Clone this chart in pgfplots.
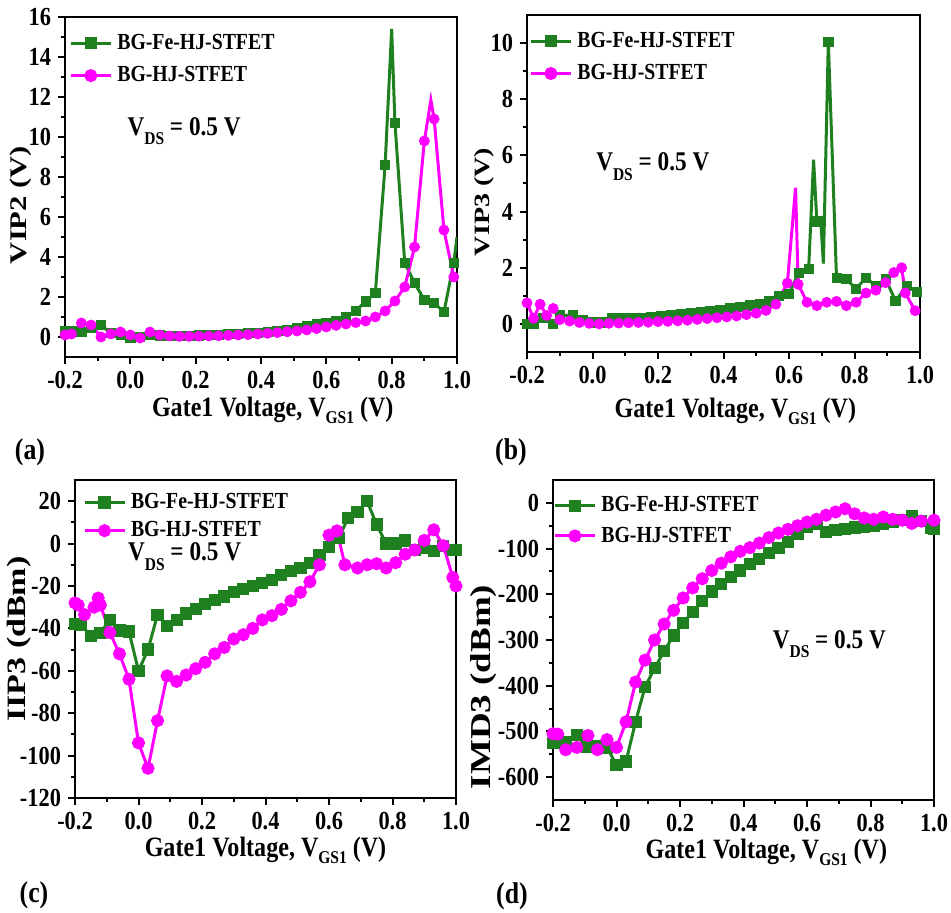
\documentclass[border=0pt]{standalone}
\usepackage{fontspec}
\setmainfont{Liberation Serif}[FakeStretch=0.86]
\newfontfamily\ylfont{Liberation Serif}
\usepackage{pgfplots}
\pgfplotsset{compat=1.18}
\usepackage{pgfplotstable}
\definecolor{cg}{RGB}{30,128,30}
\definecolor{cm}{RGB}{255,0,255}

% ---------- data ----------
\pgfplotstableread{
x y m
-0.20 0.30 0.30
-0.18 0.30 0.30
-0.15 0.25 0.25
-0.12 0.45 0.45
-0.09 0.60 0.60
-0.06 0.20 0.20
-0.03 0.10 0.10
0.00 -0.05 -0.05
0.03 0.00 0.00
0.06 0.10 0.10
0.09 0.08 0.08
0.12 0.06 0.06
0.15 0.06 0.06
0.18 0.07 0.07
0.21 0.08 0.08
0.24 0.10 0.10
0.27 0.12 0.12
0.30 0.14 0.14
0.33 0.16 0.16
0.36 0.19 0.19
0.39 0.22 0.22
0.42 0.26 0.26
0.45 0.31 0.31
0.48 0.37 0.37
0.51 0.45 0.45
0.54 0.55 0.55
0.57 0.65 0.65
0.60 0.72 0.72
0.63 0.80 0.80
0.66 1.00 1.00
0.69 1.30 1.30
0.72 1.78 1.78
0.75 2.20 2.20
0.78 8.60 8.60
0.80 15.40 nan
0.81 10.70 10.70
0.84 3.70 3.70
0.87 2.70 2.70
0.90 1.85 1.85
0.93 1.70 1.70
0.96 1.25 1.25
0.99 3.70 3.70
1.00 5.00 nan
}\AG
\pgfplotstableread{
x y m
-0.20 0.10 0.10
-0.18 0.15 0.15
-0.15 0.70 0.70
-0.12 0.60 0.60
-0.09 0.00 0.00
-0.06 0.15 0.15
-0.03 0.25 0.25
0.00 0.10 0.10
0.03 -0.05 -0.05
0.06 0.25 0.25
0.09 0.10 0.10
0.12 0.05 0.05
0.15 0.03 0.03
0.18 0.03 0.03
0.21 0.04 0.04
0.24 0.05 0.05
0.27 0.06 0.06
0.30 0.08 0.08
0.33 0.10 0.10
0.36 0.12 0.12
0.39 0.15 0.15
0.42 0.18 0.18
0.45 0.22 0.22
0.48 0.26 0.26
0.51 0.30 0.30
0.54 0.35 0.35
0.57 0.42 0.42
0.60 0.50 0.50
0.63 0.58 0.58
0.66 0.65 0.65
0.69 0.72 0.72
0.72 0.80 0.80
0.75 1.00 1.00
0.78 1.30 1.30
0.81 1.80 1.80
0.84 2.50 2.50
0.87 4.50 4.50
0.90 9.80 9.80
0.92 11.85 nan
0.93 10.90 10.90
0.96 5.35 5.35
0.99 3.00 3.00
1.00 2.80 nan
}\AM
\pgfplotstableread{
x y m
-0.20 0.00 0.00
-0.18 0.00 0.00
-0.15 0.20 0.20
-0.12 0.00 0.00
-0.10 0.30 0.30
-0.06 0.30 0.30
-0.03 0.15 0.15
0.00 0.05 0.05
0.03 0.05 0.05
0.06 0.20 0.20
0.09 0.20 0.20
0.12 0.20 0.20
0.15 0.22 0.22
0.18 0.25 0.25
0.21 0.28 0.28
0.24 0.31 0.31
0.27 0.35 0.35
0.30 0.38 0.38
0.33 0.42 0.42
0.36 0.46 0.46
0.39 0.50 0.50
0.42 0.55 0.55
0.45 0.60 0.60
0.48 0.66 0.66
0.51 0.72 0.72
0.54 0.80 0.80
0.57 1.00 1.00
0.60 1.08 1.08
0.63 1.83 1.83
0.66 1.95 1.95
0.675 5.85 nan
0.685 3.65 3.65
0.697 3.65 3.65
0.705 2.15 nan
0.72 10.05 10.05
0.745 1.65 1.65
0.775 1.60 1.60
0.805 1.25 1.25
0.835 1.65 1.65
0.865 1.35 1.35
0.895 1.60 1.60
0.925 0.82 0.82
0.96 1.35 1.35
0.99 1.15 1.15
1.00 1.10 nan
}\BG
\pgfplotstableread{
x y m
-0.20 0.75 0.75
-0.18 0.20 0.20
-0.16 0.70 0.70
-0.14 0.30 0.30
-0.12 0.55 0.55
-0.10 0.15 0.15
-0.07 0.10 0.10
-0.04 0.05 0.05
-0.01 0.02 0.02
0.02 0.00 0.00
0.05 0.02 0.02
0.08 0.03 0.03
0.11 0.04 0.04
0.14 0.05 0.05
0.17 0.06 0.06
0.20 0.08 0.08
0.23 0.09 0.09
0.26 0.11 0.11
0.29 0.13 0.13
0.32 0.16 0.16
0.35 0.19 0.19
0.38 0.22 0.22
0.41 0.25 0.25
0.44 0.28 0.28
0.47 0.33 0.33
0.50 0.38 0.38
0.53 0.48 0.48
0.56 0.70 0.70
0.595 1.45 1.45
0.62 4.85 nan
0.628 1.41 1.41
0.655 0.77 0.77
0.685 0.65 0.65
0.715 0.77 0.77
0.745 0.80 0.80
0.775 0.65 0.65
0.805 0.77 0.77
0.835 1.10 1.10
0.865 1.20 1.20
0.895 1.47 1.47
0.92 1.83 1.83
0.944 2.00 2.00
0.955 1.10 1.10
0.985 0.47 0.47
1.00 0.40 nan
}\BM
\pgfplotstableread{
x y
-0.20 -38
-0.18 -38.5
-0.15 -43.5
-0.12 -42
-0.09 -36
-0.06 -41
-0.03 -41.5
0.00 -60
0.03 -50
0.06 -33.5
0.09 -39
0.12 -36
0.15 -33
0.18 -31
0.21 -28.5
0.24 -26.5
0.27 -25
0.30 -23
0.33 -21.5
0.36 -20
0.39 -18.5
0.42 -17
0.45 -15
0.48 -13
0.51 -11.5
0.54 -9
0.57 -5.5
0.60 -1.5
0.63 2.5
0.66 12
0.69 15
0.72 20
0.75 9
0.78 0
0.81 0
0.84 1.5
0.87 -3
0.90 -2
0.93 -3.5
0.96 -1
0.99 -3
1.00 -3
}\CG
\pgfplotstableread{
x y
-0.20 -28
-0.19 -29
-0.17 -33.5
-0.14 -30
-0.127 -25.7
-0.12 -29
-0.09 -42
-0.06 -52
-0.03 -64
0.00 -94
0.03 -106
0.06 -83.5
0.09 -62.4
0.12 -65
0.15 -62
0.18 -59
0.21 -56
0.24 -52
0.27 -49
0.30 -45
0.33 -43
0.36 -40
0.39 -36
0.42 -34
0.45 -31
0.48 -27
0.51 -23
0.54 -18
0.57 -10
0.60 4
0.625 6
0.65 -10
0.69 -11.5
0.72 -10
0.75 -9.5
0.78 -11.5
0.81 -9
0.84 -5
0.87 -3
0.90 1.5
0.93 6.5
0.96 -1
0.99 -16
1.00 -20
}\CM
\pgfplotstableread{
x y
-0.20 -525
-0.19 -526
-0.16 -523
-0.125 -508
-0.094 -534
-0.062 -532
-0.03 -535
0.00 -574
0.03 -566
0.06 -479
0.09 -402
0.12 -362
0.15 -324
0.18 -290
0.21 -263
0.24 -238
0.27 -215
0.30 -194
0.33 -177
0.36 -162
0.39 -148
0.42 -134
0.45 -122
0.48 -110
0.51 -98
0.54 -85
0.57 -68
0.60 -52
0.63 -47
0.66 -64
0.69 -60
0.72 -57
0.75 -54
0.78 -52
0.81 -50
0.84 -46
0.87 -41
0.90 -37
0.93 -30
0.96 -40
0.99 -55
1.00 -56
}\DG
\pgfplotstableread{
x y
-0.20 -505
-0.185 -506
-0.16 -540
-0.125 -535
-0.09 -509
-0.06 -540
-0.03 -518
0.00 -535
0.03 -479
0.06 -392
0.09 -344
0.12 -300
0.15 -265
0.18 -235
0.21 -208
0.24 -186
0.27 -166
0.30 -148
0.33 -132
0.36 -118
0.39 -106
0.42 -98
0.45 -88
0.48 -76
0.51 -66
0.54 -58
0.57 -50
0.60 -42
0.63 -36
0.66 -27
0.69 -20
0.72 -13
0.75 -24
0.78 -33
0.81 -36
0.84 -31
0.87 -36
0.90 -38
0.93 -45
0.96 -40
1.00 -38
}\DM

\pgfplotsset{
  gl/.style={color=cg, line width=1.5pt, mark=none},
  ml/.style={color=cm, line width=1.5pt, mark=none},
  glm/.style={color=cg, line width=1.5pt, mark=square*, mark size=2.3pt, mark options={solid}},
  mlm/.style={color=cm, line width=1.5pt, mark=*, mark size=2.5pt, mark options={solid}},
  gm/.style={color=cg, only marks, mark=square*, mark size=2.3pt},
  mm/.style={color=cm, only marks, mark=*, mark size=2.5pt},
  panel/.style={
    scale only axis,
    tick pos=left, tick align=outside,
    axis line style={line width=1pt},
    every tick/.style={black, line width=1pt},
    major tick length=3.5pt, minor tick length=2pt,
    minor x tick num=1, minor y tick num=1,
    xmin=-0.2, xmax=1.0,
    xtick={-0.2,0,0.2,0.4,0.6,0.8,1.0},
    xticklabel style={/pgf/number format/.cd, fixed, fixed zerofill, precision=1},
    /pgf/number format/assume math mode=true,
    tick label style={font=\fontsize{13}{13}\bfseries\selectfont},
    xlabel={Gate1 Voltage, V\raisebox{-0.55ex}{\fontsize{9}{9}\selectfont GS1} (V)},
    xlabel style={font=\fontsize{14}{14}\bfseries\selectfont, anchor=north, inner sep=0pt},
    ylabel style={anchor=south, inner sep=0pt},
    legend cell align=left,
    legend image code/.code={\draw[#1, mark repeat=2, mark phase=2] plot coordinates {(0pt,0pt) (10pt,0pt) (20pt,0pt)};},
    legend style={draw=none, fill=none, inner sep=0pt, row sep=2pt,
      font=\fontsize{11.5}{12}\bfseries\selectfont, anchor=north west,
      nodes={inner sep=2.5pt}},
  },
}
\newcommand{\vds}{V\raisebox{-0.75ex}{\fontsize{9}{9}\selectfont DS} = 0.5 V}
\newcommand{\yl}[2]{\scalebox{1}[0.78]{\ylfont\fontsize{#1}{#1}\bfseries\selectfont #2}}

\begin{document}
\begin{tikzpicture}
\path[use as bounding box] (0,0) rectangle (475.5pt,456.5pt);

% (a)
\begin{axis}[panel, at={(32.5pt,278pt)}, anchor=south west,
  width=196pt, height=170pt, ymin=-1, ymax=16, ytick={0,2,...,16},
  ylabel={\yl{15.3}{VIP2 (V)}},
  ylabel style={at={(axis description cs:0,0.447)}, yshift=16.5pt},
  xlabel style={at={(axis description cs:0.53,0)}, yshift=-20pt},
  legend style={at={(0.01,0.965)}}]
\addlegendimage{glm}
\addlegendentry{BG-Fe-HJ-STFET}
\addlegendimage{mlm}
\addlegendentry{BG-HJ-STFET}
\addplot[gl] table[x=x,y=y]{\AG};
\addplot[gm] table[x=x,y=m]{\AG};
\addplot[ml] table[x=x,y=y]{\AM};
\addplot[mm] table[x=x,y=m]{\AM};
\node[anchor=west, font=\fontsize{13.5}{13.5}\bfseries\selectfont] at (axis cs:-0.03,10.3) {\vds};
\end{axis}

% (b)
\begin{axis}[panel, at={(263.5pt,280.5pt)}, anchor=south west,
  width=196.5pt, height=168.5pt, ymin=-1, ymax=11, ytick={0,2,...,10},
  ylabel={\yl{14}{VIP3 (V)}},
  ylabel style={at={(axis description cs:0,0.445)}, yshift=16pt},
  xlabel style={at={(axis description cs:0.53,0)}, yshift=-23pt},
  legend style={at={(0.005,0.965)}}]
\addlegendimage{glm}
\addlegendentry{BG-Fe-HJ-STFET}
\addlegendimage{mlm}
\addlegendentry{BG-HJ-STFET}
\addplot[gl] table[x=x,y=y]{\BG};
\addplot[gm] table[x=x,y=m]{\BG};
\addplot[ml] table[x=x,y=y]{\BM};
\addplot[mm] table[x=x,y=m]{\BM};
\node[anchor=west, font=\fontsize{13.5}{13.5}\bfseries\selectfont] at (axis cs:-0.01,5.6) {\vds};
\end{axis}

% (c)
\begin{axis}[panel, at={(37.5pt,57.5pt)}, anchor=south west,
  width=190.5pt, height=159pt, ymin=-120, ymax=30, ytick={-120,-100,...,20},
  ylabel={\yl{17}{IIP3 (dBm)}},
  ylabel style={at={(axis description cs:0,0.5)}, yshift=21.5pt},
  xlabel style={at={(axis description cs:0.5,0)}, yshift=-19.5pt},
  legend style={at={(0.02,0.975)}, row sep=0pt}]
\addlegendimage{glm}
\addlegendentry{BG-Fe-HJ-STFET}
\addlegendimage{mlm}
\addlegendentry{BG-HJ-STFET}
\addplot[glm] table[x=x,y=y]{\CG};
\addplot[mlm] table[x=x,y=y]{\CM};
\node[anchor=west, font=\fontsize{13.5}{13.5}\bfseries\selectfont] at (axis cs:-0.055,-6.2) {\vds};
\end{axis}

% (d)
\begin{axis}[panel, at={(276.5pt,56.5pt)}, anchor=south west,
  width=190.5pt, height=160pt, ymin=-650, ymax=50, ytick={-600,-500,...,0},
  ylabel={\yl{18.5}{IMD3 (dBm)}},
  ylabel style={at={(axis description cs:0,0.353)}, yshift=28pt},
  xlabel style={at={(axis description cs:0.56,0)}, yshift=-19.5pt},
  legend style={at={(0.0,0.965)}, row sep=1pt}]
\addlegendimage{glm}
\addlegendentry{BG-Fe-HJ-STFET}
\addlegendimage{mlm}
\addlegendentry{BG-HJ-STFET}
\addplot[glm] table[x=x,y=y]{\DG};
\addplot[mlm] table[x=x,y=y]{\DM};
\node[anchor=west, font=\fontsize{13.5}{13.5}\bfseries\selectfont] at (axis cs:0.47,-309) {\vds};
\end{axis}

\node[font=\fontsize{15}{15}\bfseries\selectfont] at (15pt,230.5pt) {(a)};
\node[font=\fontsize{15}{15}\bfseries\selectfont] at (255.5pt,230.5pt) {(b)};
\node[font=\fontsize{15}{15}\bfseries\selectfont] at (17pt,9pt) {(c)};
\node[font=\fontsize{15}{15}\bfseries\selectfont] at (256pt,8.5pt) {(d)};
\end{tikzpicture}
\end{document}
